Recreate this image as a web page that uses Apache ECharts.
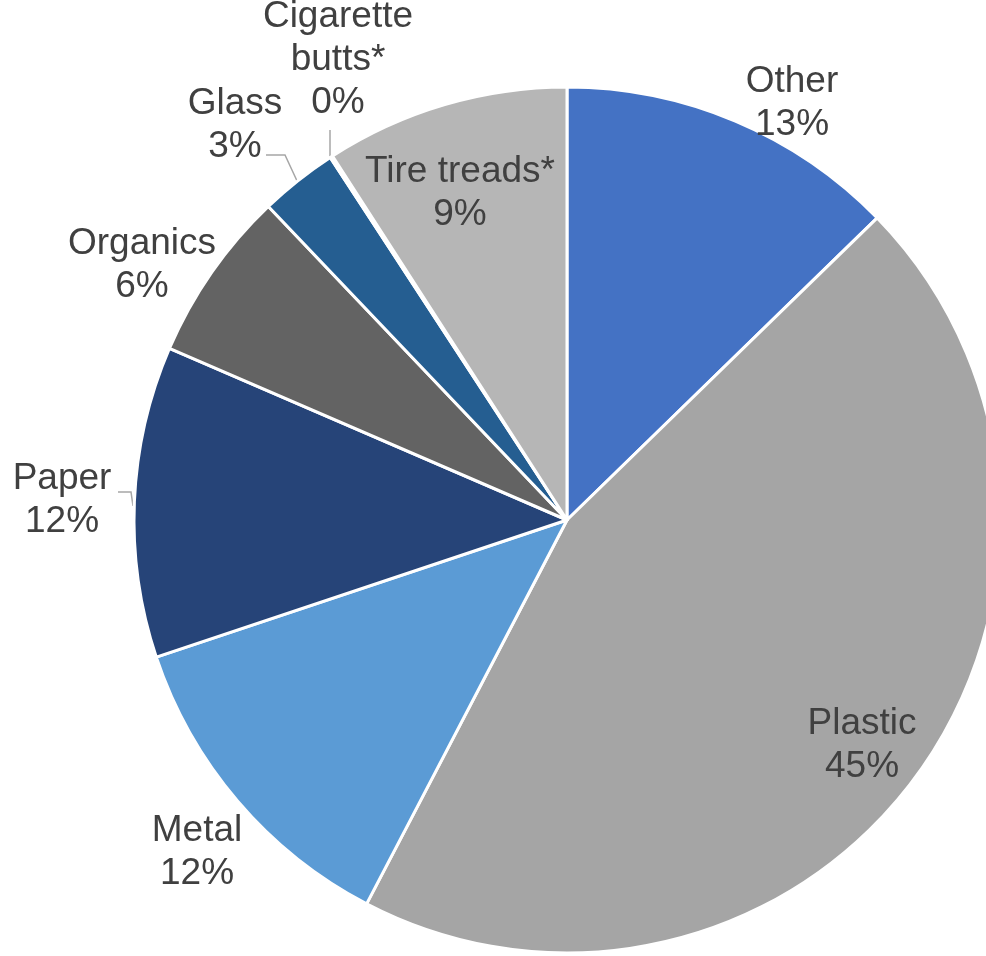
<!DOCTYPE html>
<html>
<head>
<meta charset="utf-8">
<script src="https://cdn.jsdelivr.net/npm/echarts@6/dist/echarts.min.js"></script>
<style>
  html, body { margin: 0; padding: 0; background: #fff; }
  #chart { width: 986px; height: 956px; }
</style>
</head>
<body>
<div id="chart"></div>
<script>
// 数据 (percent shares)
const categories = ["Other", "Plastic", "Metal", "Paper", "Organics", "Glass", "Cigarette\nbutts*", "Tire treads*"];
const shares = [12.7, 44.9, 12.2, 11.6, 6.4, 2.9, 0.1, 9.1];
const colors = ["#4472C4", "#A5A5A5", "#5B9BD5", "#264478", "#636363", "#255E91", "#997300", "#B6B6B6"];

// label placement (style, not data)
const labelPos = {
  "Other": [792, 103],
  "Plastic": [862, 745],
  "Metal": [197, 852],
  "Paper": [62, 500],
  "Organics": [142, 265],
  "Glass": [235, 125],
  "Cigarette\nbutts*": [338, 60],
  "Tire treads*": [460, 193],
};
const leaderLines = {
  "Paper": [[133, 506], [131, 492], [118, 492]],
  "Glass": [[298, 183], [285, 155], [266, 155]],
  "Cigarette\nbutts*": [[330, 158], [330, 130]],
};

const chart = echarts.init(document.getElementById("chart"));
const option = {
  animation: false,
  series: [
    {
      type: "pie",
      center: [567, 520],
      radius: 433,
      startAngle: 90,
      clockwise: true,
      silent: true,
      itemStyle: {
        borderColor: "#fff",
        borderWidth: 3,
      },
      label: {
        show: true,
        position: "outside",
        formatter: (p) => p.name + "\n" + Math.round(p.value) + "%",
        fontFamily: "Liberation Sans, Arial, sans-serif",
        fontSize: 37,
        lineHeight: 43,
        color: "#404040",
        align: "center",
        overflow: "none",
        width: 300,
      },
      labelLine: {
        show: true,
        lineStyle: { color: "#A6A6A6", width: 1.5 },
      },
      labelLayout: (params) => {
        const name = categories[params.dataIndex];
        const pos = labelPos[name];
        const out = {
          x: pos[0],
          y: pos[1],
          align: "center",
          verticalAlign: "middle",
        };
        out.labelLinePoints = leaderLines[name] || [[0, 0], [0, 0]];
        return out;
      },
      data: categories.map((name, i) => ({
        name: name,
        value: shares[i],
        itemStyle: { color: colors[i] },
        labelLine: { show: !!leaderLines[name] },
      })),
    },
  ],
};
chart.setOption(option);
</script>
</body>
</html>
